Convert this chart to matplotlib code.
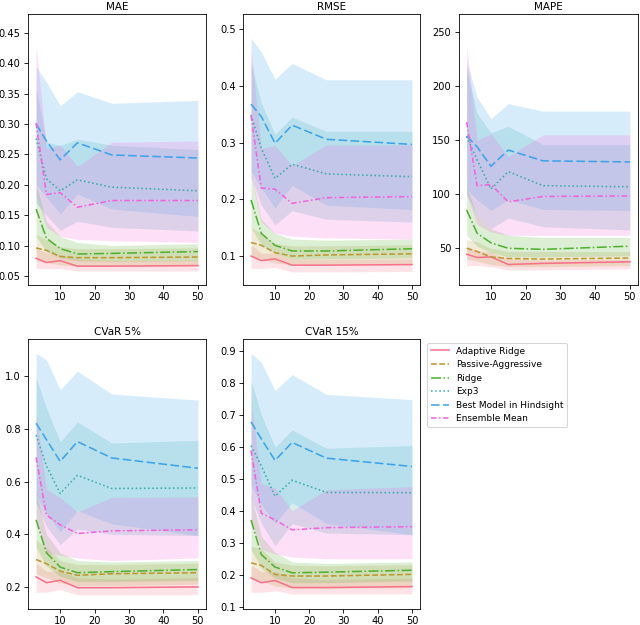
import matplotlib
matplotlib.use("Agg")
import matplotlib.pyplot as plt

plt.rcParams["font.size"] = 9.5

X = [3, 6, 10, 15, 25, 50]
METHODS = ["Adaptive Ridge", "Passive-Aggressive", "Ridge", "Exp3",
           "Best Model in Hindsight", "Ensemble Mean"]
COLORS = ["#f77189", "#bb9832", "#50b131", "#36ada4", "#3ba3ec", "#f561dd"]
STYLES = ["-", (0, (3.7, 1.6)), "-.", ":", (0, (5.5, 2.2)), (0, (3.5, 1.6, 1, 1.6))]
TITLES = ["MAE", "RMSE", "MAPE", "CVaR 5%", "CVaR 15%"]

# ---- MAE ----
MAE_MEAN = [
    [0.079, 0.072, 0.075, 0.066, 0.066, 0.067],
    [0.096, 0.092, 0.082, 0.080, 0.080, 0.081],
    [0.160, 0.112, 0.095, 0.086, 0.087, 0.090],
    [0.276, 0.210, 0.190, 0.208, 0.196, 0.190],
    [0.300, 0.272, 0.241, 0.269, 0.249, 0.244],
    [0.302, 0.184, 0.187, 0.163, 0.174, 0.174],
]
MAE_LO = [
    [0.062, 0.062, 0.062, 0.058, 0.058, 0.058],
    [0.075, 0.072, 0.068, 0.066, 0.066, 0.066],
    [0.115, 0.090, 0.080, 0.075, 0.074, 0.075],
    [0.170, 0.150, 0.125, 0.140, 0.130, 0.124],
    [0.200, 0.180, 0.152, 0.185, 0.160, 0.148],
    [0.180, 0.130, 0.115, 0.110, 0.108, 0.105],
]
MAE_HI = [
    [0.095, 0.088, 0.085, 0.078, 0.076, 0.076],
    [0.118, 0.110, 0.098, 0.095, 0.095, 0.096],
    [0.200, 0.140, 0.115, 0.105, 0.100, 0.103],
    [0.360, 0.270, 0.265, 0.275, 0.265, 0.258],
    [0.394, 0.369, 0.330, 0.353, 0.334, 0.339],
    [0.430, 0.260, 0.265, 0.230, 0.270, 0.272],
]

# ---- RMSE ----
RMSE_MEAN = [
    [0.100, 0.092, 0.095, 0.084, 0.084, 0.085],
    [0.124, 0.119, 0.106, 0.100, 0.102, 0.104],
    [0.199, 0.140, 0.119, 0.109, 0.109, 0.113],
    [0.349, 0.290, 0.237, 0.262, 0.245, 0.240],
    [0.368, 0.346, 0.299, 0.331, 0.306, 0.297],
    [0.348, 0.220, 0.218, 0.193, 0.203, 0.205],
]
RMSE_LO = [
    [0.078, 0.078, 0.080, 0.072, 0.072, 0.073],
    [0.100, 0.095, 0.088, 0.085, 0.085, 0.087],
    [0.150, 0.120, 0.105, 0.095, 0.095, 0.097],
    [0.240, 0.190, 0.155, 0.180, 0.165, 0.160],
    [0.250, 0.220, 0.185, 0.225, 0.190, 0.182],
    [0.240, 0.160, 0.140, 0.135, 0.132, 0.130],
]
RMSE_HI = [
    [0.120, 0.105, 0.105, 0.095, 0.094, 0.095],
    [0.150, 0.140, 0.122, 0.118, 0.118, 0.120],
    [0.245, 0.165, 0.140, 0.130, 0.128, 0.130],
    [0.440, 0.370, 0.315, 0.345, 0.320, 0.320],
    [0.484, 0.460, 0.412, 0.440, 0.411, 0.411],
    [0.465, 0.290, 0.295, 0.260, 0.296, 0.296],
]

# ---- MAPE ----
MAPE_MEAN = [
    [44.5, 41.5, 42.0, 35.0, 36.0, 37.5],
    [50.0, 47.0, 42.0, 40.5, 40.0, 41.0],
    [85.5, 64.0, 55.0, 50.0, 49.0, 52.0],
    [153.5, 132.0, 105.0, 121.0, 108.0, 107.0],
    [154.0, 144.0, 126.0, 141.0, 131.0, 130.0],
    [167.0, 108.0, 109.0, 93.0, 98.0, 98.5],
]
MAPE_LO = [
    [34.0, 34.0, 33.0, 30.0, 30.0, 31.0],
    [40.0, 38.0, 35.0, 33.0, 33.0, 34.0],
    [62.0, 52.0, 46.0, 42.0, 42.0, 43.0],
    [100.0, 80.0, 68.0, 78.0, 70.0, 67.0],
    [105.0, 95.0, 85.0, 95.0, 86.0, 85.0],
    [100.0, 72.0, 65.0, 62.0, 62.0, 62.0],
]
MAPE_HI = [
    [52.0, 48.0, 46.0, 40.0, 39.0, 40.0],
    [58.0, 56.0, 50.0, 47.0, 47.0, 47.0],
    [107.0, 80.0, 68.0, 62.0, 60.0, 60.0],
    [215.0, 175.0, 157.0, 163.0, 146.0, 146.0],
    [223.0, 190.0, 170.0, 184.0, 177.0, 177.0],
    [237.0, 150.0, 156.0, 135.0, 155.0, 155.0],
]

# ---- CVaR 5% ----
CVAR5_MEAN = [
    [0.238, 0.216, 0.225, 0.197, 0.197, 0.200],
    [0.304, 0.288, 0.260, 0.244, 0.250, 0.254],
    [0.455, 0.330, 0.275, 0.254, 0.258, 0.266],
    [0.777, 0.660, 0.555, 0.624, 0.574, 0.576],
    [0.822, 0.760, 0.677, 0.752, 0.690, 0.651],
    [0.692, 0.473, 0.436, 0.403, 0.413, 0.417],
]
CVAR5_LO = [
    [0.180, 0.180, 0.190, 0.170, 0.170, 0.170],
    [0.250, 0.235, 0.215, 0.205, 0.205, 0.210],
    [0.350, 0.280, 0.240, 0.220, 0.220, 0.225],
    [0.520, 0.430, 0.360, 0.420, 0.400, 0.395],
    [0.550, 0.480, 0.410, 0.490, 0.440, 0.395],
    [0.460, 0.330, 0.320, 0.310, 0.300, 0.310],
]
CVAR5_HI = [
    [0.290, 0.260, 0.260, 0.235, 0.230, 0.235],
    [0.380, 0.350, 0.300, 0.285, 0.285, 0.290],
    [0.560, 0.400, 0.330, 0.300, 0.295, 0.300],
    [0.994, 0.880, 0.752, 0.827, 0.747, 0.757],
    [1.088, 1.063, 0.950, 1.020, 0.933, 0.910],
    [0.860, 0.571, 0.539, 0.485, 0.540, 0.542],
]

# ---- CVaR 15% ----
CVAR15_MEAN = [
    [0.190, 0.175, 0.182, 0.160, 0.160, 0.163],
    [0.237, 0.229, 0.201, 0.196, 0.196, 0.201],
    [0.371, 0.263, 0.224, 0.206, 0.208, 0.214],
    [0.603, 0.540, 0.445, 0.495, 0.457, 0.456],
    [0.677, 0.624, 0.557, 0.613, 0.564, 0.538],
    [0.588, 0.392, 0.371, 0.340, 0.347, 0.350],
]
CVAR15_LO = [
    [0.145, 0.145, 0.150, 0.140, 0.140, 0.140],
    [0.190, 0.180, 0.165, 0.158, 0.158, 0.160],
    [0.280, 0.220, 0.190, 0.175, 0.175, 0.180],
    [0.440, 0.360, 0.290, 0.360, 0.330, 0.325],
    [0.480, 0.420, 0.360, 0.425, 0.360, 0.325],
    [0.370, 0.280, 0.265, 0.255, 0.250, 0.250],
]
CVAR15_HI = [
    [0.230, 0.210, 0.210, 0.190, 0.185, 0.190],
    [0.290, 0.280, 0.240, 0.230, 0.228, 0.232],
    [0.450, 0.320, 0.270, 0.240, 0.235, 0.240],
    [0.804, 0.700, 0.598, 0.652, 0.595, 0.603],
    [0.892, 0.863, 0.775, 0.825, 0.763, 0.747],
    [0.740, 0.485, 0.470, 0.400, 0.465, 0.475],
]

PANELS = [
    (MAE_MEAN, MAE_LO, MAE_HI),
    (RMSE_MEAN, RMSE_LO, RMSE_HI),
    (MAPE_MEAN, MAPE_LO, MAPE_HI),
    (CVAR5_MEAN, CVAR5_LO, CVAR5_HI),
    (CVAR15_MEAN, CVAR15_LO, CVAR15_HI),
]
YLIMS = [(0.035, 0.481), (0.049, 0.527), (16, 267), (0.116, 1.141), (0.093, 0.935)]

W, H = 640, 625
fig = plt.figure(figsize=(W / 75, H / 75), dpi=75)

def frac(x0, x1, ytop, ybot):
    return [x0 / W, 1 - ybot / H, (x1 - x0) / W, (ybot - ytop) / H]

RECTS = [
    frac(28, 206, 14, 285),
    frac(243, 420, 14, 285),
    frac(458.5, 638, 14, 285),
    frac(28, 206, 339.3, 609),
    frac(243, 420, 339.3, 609),
]

handles = []
for p, (mean, lo, hi) in enumerate(PANELS):
    ax = fig.add_axes(RECTS[p])
    for i, name in enumerate(METHODS):
        ln, = ax.plot(X, mean[i], color=COLORS[i], linestyle=STYLES[i],
                      lw=1.5, label=name)
        ax.fill_between(X, lo[i], hi[i], color=COLORS[i], alpha=0.2, lw=0)
        if p == 0:
            handles.append(ln)
    ax.set_title(TITLES[p], fontsize=10, pad=4)
    ax.set_ylim(*YLIMS[p])
    ax.set_xticks([10, 20, 30, 40, 50])

fig.legend(handles=handles, labels=METHODS, loc="upper left",
           bbox_to_anchor=(427 / W, 1 - 343 / H), borderaxespad=0,
           fontsize=8.7)

fig.savefig("out.png", dpi=75)
